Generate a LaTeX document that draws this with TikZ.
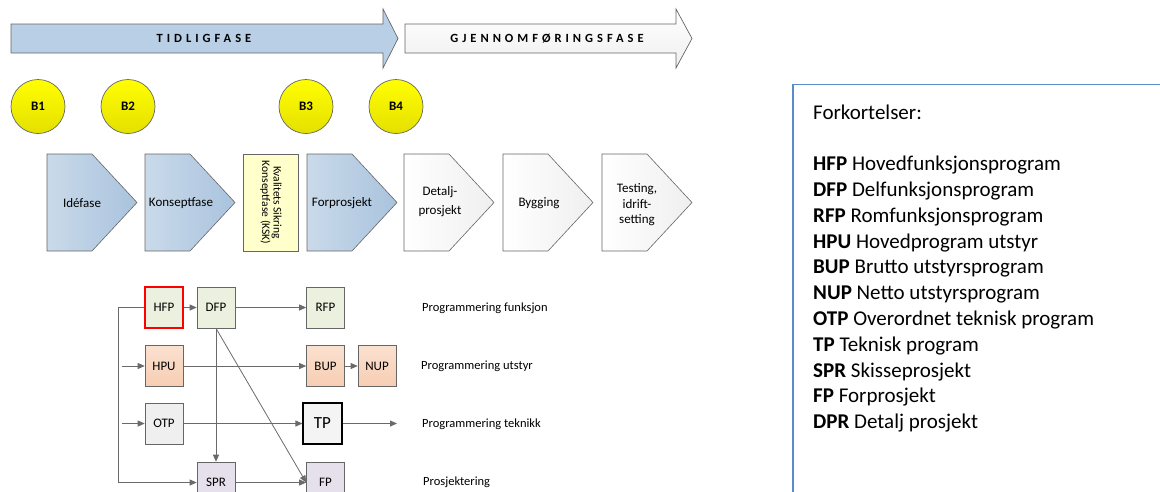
\documentclass[tikz,border=0pt]{standalone}
\usepackage{fontspec}
\setmainfont{Carlito}
\newfontfamily\spacedfont[LetterSpace=32]{Carlito}
\usetikzlibrary{arrows.meta}

\definecolor{edgegray}{HTML}{666666}
\definecolor{linegray}{HTML}{6A6A6A}
\definecolor{phaseblue}{HTML}{B9CFE5}
\definecolor{chevlight}{HTML}{CADAEA}
\definecolor{chevdark}{HTML}{A9C3DD}
\definecolor{paleyellow}{HTML}{FFFFCC}
\definecolor{gateyellow}{HTML}{FFFF00}
\definecolor{gatedark}{HTML}{E4E000}
\definecolor{boxgreen}{HTML}{EBF1DE}
\definecolor{boxpeach}{HTML}{FBE1D0}
\definecolor{boxpeachdk}{HTML}{F6CDB2}
\definecolor{boxgray}{HTML}{EFEFEF}
\definecolor{boxlav}{HTML}{E5E0EC}
\definecolor{legendblue}{HTML}{5B8BC8}

\begin{document}
\begin{tikzpicture}[x=1pt,y=-1pt,
  phasearrow/.style={draw=edgegray, line width=0.7pt},
  phaselabel/.style={font=\spacedfont\bfseries\fontsize{12.5}{14}\selectfont, inner sep=0pt},
  gate/.style={circle, draw=edgegray, line width=0.7pt, minimum size=54pt, inner sep=0pt,
    top color=gateyellow, bottom color=gatedark, font=\bfseries\fontsize{13}{15}\selectfont},
  bluechev/.style={draw=edgegray, line width=0.6pt, left color=chevlight, right color=chevdark},
  whitechev/.style={draw=edgegray, line width=0.6pt, left color=white, right color=boxgray},
  chevtext/.style={align=center, inner sep=0pt, font=\fontsize{13}{16}\selectfont},
  pbox/.style={draw=edgegray, line width=0.6pt, minimum width=38pt, minimum height=41pt,
    inner sep=0pt, font=\fontsize{13}{15}\selectfont},
  conn/.style={draw=linegray, line width=0.8pt, -{Triangle[length=7pt,width=6pt]}},
  lanelabel/.style={anchor=west, inner sep=0pt, font=\fontsize{12.5}{15}\selectfont},
  legendtext/.style={anchor=base west, inner sep=0pt, font=\fontsize{21}{25}\selectfont}
]
\useasboundingbox (0,0) rectangle (1160,491);
\clip (0,0) rectangle (1160,491);

% phase arrows
\path[phasearrow, fill=phaseblue]
  (11,24) -- (383,24) -- (383,9) -- (398,38.5) -- (383,68) -- (383,53) -- (11,53) -- cycle;
\node[phaselabel] (tidlig) at (204,38.5) {TIDLIGFASE};
\path[phasearrow, top color=white, bottom color=boxgray]
  (405,24) -- (676,24) -- (676,9) -- (692,38.5) -- (676,68) -- (676,53) -- (405,53) -- cycle;
\node[phaselabel] (gjennom) at (547,38.5) {GJENNOMFØRINGSFASE};

% decision gates
\node[gate] (b1) at (38,106.5) {B1};
\node[gate] (b2) at (128,106.5) {B2};
\node[gate] (b3) at (306,106.5) {B3};
\node[gate] (b4) at (396,106.5) {B4};

% phase chevrons
\path[bluechev] (47,154) -- (92,154) -- (137,202.5) -- (92,251) -- (47,251) -- cycle;
\path[bluechev] (145,154) -- (190,154) -- (235,202.5) -- (190,251) -- (145,251) -- cycle;
\path[draw=edgegray, line width=0.6pt, fill=paleyellow] (243,154) rectangle (298,251);
\path[bluechev] (307,154) -- (352,154) -- (397,202.5) -- (352,251) -- (307,251) -- cycle;
\path[whitechev] (404,154) -- (449,154) -- (494,202.5) -- (449,251) -- (404,251) -- cycle;
\path[whitechev] (503,154) -- (548,154) -- (593,202.5) -- (548,251) -- (503,251) -- cycle;
\path[whitechev] (602,154) -- (647,154) -- (692,202.5) -- (647,251) -- (602,251) -- cycle;

\node[chevtext] (idefase) at (82,203) {Idéfase};
\node[chevtext] (konsept) at (181,203) {Konseptfase};
\node[chevtext, rotate=-90, font=\fontsize{11.5}{11.5}\selectfont] (ksk) at (271,202.5)
  {Kvalitets Sikring\\Konseptfase (KSK)};
\node[chevtext] (forpro) at (342,203) {Forprosjekt};
\node[chevtext, font=\fontsize{13}{19}\selectfont] (detalj) at (440,202) {Detalj-\\prosjekt};
\node[chevtext] (bygging) at (539,203) {Bygging};
\node[chevtext, font=\fontsize{13}{15.5}\selectfont] (testing) at (637,205) {Testing,\\idrift-\\setting};

% programme boxes
\node[pbox, fill=boxgreen, draw=red, line width=2pt] (hfp) at (164,307.5) {HFP};
\node[pbox, fill=boxgreen] (dfp) at (216,307.5) {DFP};
\node[pbox, fill=boxgreen] (rfp) at (325.5,307.5) {RFP};
\node[pbox, top color=boxpeach, bottom color=boxpeachdk] (hpu) at (164,366) {HPU};
\node[pbox, top color=boxpeach, bottom color=boxpeachdk] (bup) at (325.5,366) {BUP};
\node[pbox, top color=boxpeach, bottom color=boxpeachdk] (nup) at (377,366) {NUP};
\node[pbox, fill=boxgray] (otp) at (164,423.5) {OTP};
\node[pbox, fill=boxgray!70!white, draw=black, line width=1.1pt, minimum width=39pt,
  font=\fontsize{17}{19}\selectfont] (tp) at (322.5,423.5) {TP};
\node[pbox, fill=boxlav] (spr) at (216,482.5) {SPR};
\node[pbox, fill=boxlav] (fp) at (325.5,482.5) {FP};

% connectors
\coordinate (loop) at (118,307.5);
\coordinate (inhpu) at (122,366);
\coordinate (inotp) at (122,423.5);
\coordinate (outtp) at (397,423.5);

\draw[conn] (hfp) -- (dfp);
\draw[conn] (dfp) -- (rfp);
\draw[conn] (hfp.west) -- (loop) |- (spr.west);
\draw[conn] (inhpu) -- (hpu);
\draw[conn] (hpu) -- (bup);
\draw[conn] (bup) -- (nup);
\draw[conn] (inotp) -- (otp);
\draw[conn] (otp) -- (tp);
\draw[conn] (tp) -- (outtp);
\draw[conn] (dfp.south) -- (spr.north);
\draw[conn] (dfp.south) -- (fp.west);
\draw[conn] (spr) -- (fp);

% lane labels
\node[lanelabel] (lfunk) at (422,308) {Programmering funksjon};
\node[lanelabel] (lutst) at (421,366) {Programmering utstyr};
\node[lanelabel] (ltekn) at (422,424) {Programmering teknikk};
\node[lanelabel] (lpros) at (423,482) {Prosjektering};

% abbreviation legend
\draw[legendblue, line width=1.6pt] (793,520) -- (793,84.5) -- (1180,84.5);
\node[legendtext] (legtitle) at (813,119) {Forkortelser:};
\foreach \ab/\tx [count=\i] in {HFP/Hovedfunksjonsprogram, DFP/Delfunksjonsprogram,
    RFP/Romfunksjonsprogram, HPU/Hovedprogram utstyr, BUP/Brutto utstyrsprogram,
    NUP/Netto utstyrsprogram, OTP/Overordnet teknisk program, TP/Teknisk program,
    SPR/Skisseprosjekt, FP/Forprosjekt, DPR/Detalj prosjekt}
  \node[legendtext] (leg\i) at (813,{119+25.8*(\i+1)}) {\textbf{\ab} \tx};
\end{tikzpicture}
\end{document}
